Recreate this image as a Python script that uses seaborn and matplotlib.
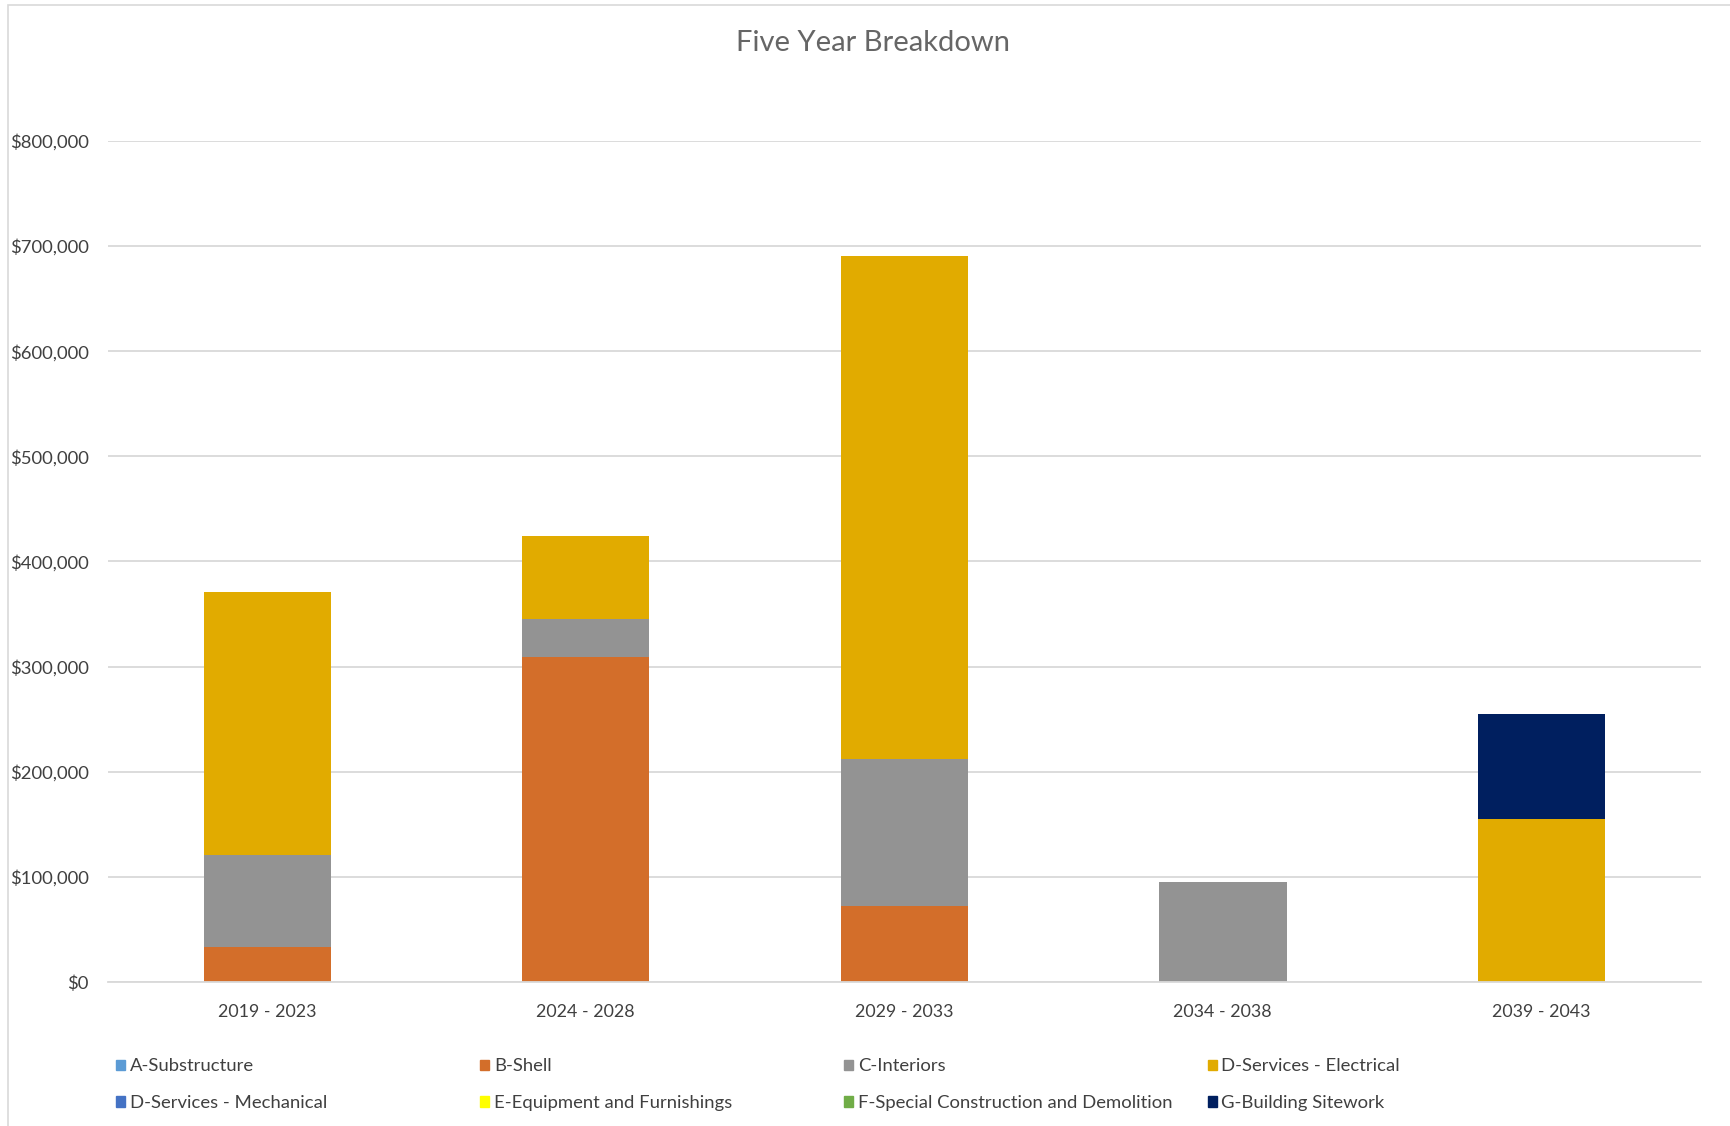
import matplotlib
matplotlib.use("Agg")
import matplotlib.pyplot as plt
import matplotlib.patches as mpatches
import matplotlib.ticker as mticker
import seaborn as sns
import pandas as pd
import numpy as np

periods = ["2019 - 2023", "2024 - 2028", "2029 - 2033", "2034 - 2038", "2039 - 2043"]
series_names = ["A-Substructure", "B-Shell", "C-Interiors", "D-Services - Electrical",
                "D-Services - Mechanical", "E-Equipment and Furnishings",
                "F-Special Construction and Demolition", "G-Building Sitework"]
a_substructure = [0, 0, 0, 0, 0]
b_shell = [33000, 309000, 72000, 0, 0]
c_interiors = [87500, 36000, 140000, 95500, 0]
d_electrical = [250000, 79000, 479000, 0, 155500]
d_mechanical = [0, 0, 0, 0, 0]
e_equipment = [0, 0, 0, 0, 0]
f_special = [0, 0, 0, 0, 0]
g_sitework = [0, 0, 0, 0, 99500]
colors = ["#5B9BD5", "#D36E2A", "#939393", "#E1AB00", "#4472C4", "#FFFF00", "#70AD47", "#001F5F"]

values = [a_substructure, b_shell, c_interiors, d_electrical,
          d_mechanical, e_equipment, f_special, g_sitework]
df = pd.DataFrame({name: vals for name, vals in zip(series_names, values)}, index=periods)
cum = df.cumsum(axis=1)

sns.set_theme(style="white")
plt.rcParams['font.family'] = ['Lato', 'DejaVu Sans']

fig = plt.figure(figsize=(17.3, 11.26), dpi=100)
ax = fig.add_axes([0.0624, 0.1279, 0.9206, 0.7469])

# stacked bars: draw cumulative totals from the top series down
for name, col in zip(series_names[::-1], colors[::-1]):
    plot_df = pd.DataFrame({"period": periods, "value": cum[name].values})
    sns.barplot(data=plot_df, x="period", y="value", order=periods, color=col,
                width=0.4, linewidth=0, saturation=1, ax=ax)

ax.set_ylim(0, 800000)
ax.set_xlim(-0.5, 4.5)
ax.yaxis.set_major_locator(mticker.MultipleLocator(100000))
ax.yaxis.set_major_formatter(mticker.FuncFormatter(lambda v, p: f"${v:,.0f}"))
ax.grid(axis="y", color="#D9D9D9", linewidth=1.3)
ax.set_axisbelow(True)
for s in ["top", "right", "left"]:
    ax.spines[s].set_visible(False)
ax.spines["bottom"].set_color("#D9D9D9")
ax.spines["bottom"].set_linewidth(1.3)
ax.set_xlabel("")
ax.set_ylabel("")
ax.tick_params(axis="x", length=0, pad=16, labelsize=12.9, labelcolor="#404040")
ax.tick_params(axis="y", length=0, pad=14, labelsize=13.3, labelcolor="#404040")

fig.suptitle("Five Year Breakdown", x=0.5046, y=0.962, va="center",
             fontsize=21, color="#666666")

# legend: four fixed-width columns, two rows
order = [[0, 4], [1, 5], [2, 6], [3, 7]]
col_x = [0.067, 0.2775, 0.488, 0.698]
for idx, x in zip(order, col_x):
    handles = [mpatches.Patch(color=colors[i], label=series_names[i]) for i in idx]
    leg = fig.legend(handles=handles, loc="center left", bbox_to_anchor=(x, 0.0366),
                     frameon=False, fontsize=13.3, handlelength=0.5, handleheight=0.5,
                     handletextpad=0.25, borderpad=0, borderaxespad=0, labelspacing=1.12)
    for t in leg.get_texts():
        t.set_color("#404040")

fig.add_artist(mpatches.Rectangle((0.0045, -0.05), 1.2, 1.046, transform=fig.transFigure,
                                  fill=False, edgecolor="#D9D9D9", linewidth=1.2))

fig.savefig("out.png", dpi=100, facecolor="white")
